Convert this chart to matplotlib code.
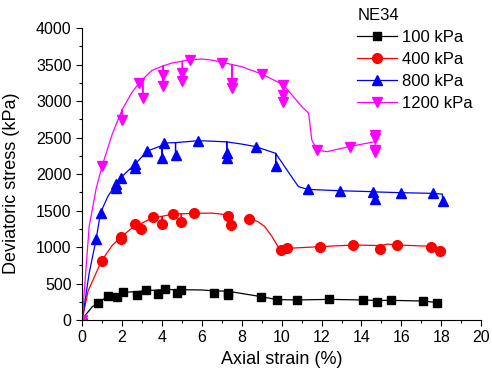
import numpy as np
import matplotlib

matplotlib.use('Agg')
import matplotlib.pyplot as plt
from matplotlib.ticker import MultipleLocator

plt.rcParams['font.family'] = ['Liberation Sans', 'DejaVu Sans']

# 100 kPa
x100 = [0, 0.79, 1.32, 1.76, 2.04, 2.76, 3.21, 3.8, 4.13, 4.75, 4.97, 6.6, 7.3, 7.3,
        8.98, 9.75, 10.79, 12.39, 14.07, 14.8, 15.47, 17.1, 17.78]
y100 = [0, 237, 329, 311, 379, 342, 411, 356, 420, 365, 411, 374, 365, 343,
        311, 270, 274, 283, 274, 247, 274, 256, 229]
cx100 = [0, 0.2, 0.5, 0.79, 1.32, 1.76, 1.76, 1.76, 2.04, 2.76, 2.76, 2.76, 3.21, 3.8, 3.8, 3.8,
         4.13, 4.75, 4.75, 4.75, 4.97, 6.0, 6.6, 7.3, 7.3, 7.3, 8.98, 9.75, 10.79, 12.39,
         14.07, 14.8, 14.8, 14.8, 15.47, 17.1, 17.78]
cy100 = [0, 80, 180, 237, 329, 340, 311, 340, 379, 390, 342, 390, 405, 410, 356, 410,
         420, 415, 365, 415, 415, 412, 400, 395, 343, 395, 320, 280, 275, 283,
         275, 268, 247, 268, 270, 260, 240]

# 400 kPa
x400 = [0, 0.97, 1.93, 1.93, 2.63, 2.93, 3.55, 4.0, 4.55, 4.97, 5.63, 7.33, 7.47, 8.38,
        9.95, 10.27, 11.93, 13.6, 14.95, 15.8, 17.48, 17.93]
y400 = [0, 812, 1133, 1105, 1315, 1242, 1415, 1315, 1452, 1347, 1461, 1429, 1297, 1384,
        959, 982, 1005, 1028, 968, 1028, 1005, 945]
cx400 = [0, 0.3, 0.97, 1.5, 1.93, 2.63, 2.93, 2.93, 2.93, 3.55, 4.0, 4.0, 4.0, 4.55, 4.97,
         4.97, 4.97, 5.63, 6.5, 7.33, 7.47, 7.47, np.nan, 8.38, 8.8, 9.15, 9.5, 9.85, 9.95,
         10.27, 11.93, 13.6, 14.95, 14.95, 14.95, 15.3, 15.8, 17.48, 17.93, 17.93]
cy400 = [0, 400, 812, 1020, 1133, 1290, 1320, 1242, 1320, 1400, 1420, 1315, 1420, 1452, 1455,
         1347, 1455, 1461, 1465, 1440, 1430, 1297, np.nan, 1384, 1350, 1280, 1150, 990, 960,
         982, 1005, 1028, 1020, 968, 1020, 1040, 1028, 1010, 990, 945]

# 800 kPa
x800 = [0, 0.7, 0.92, 1.72, 1.72, 1.97, 2.67, 2.67, 3.27, 4.0, 4.1, 4.68, 5.83, 7.25, 7.25,
        8.7, 9.7, 11.3, 12.9, 14.6, 14.7, 16.0, 17.6, 18.07]
y800 = [0, 1105, 1470, 1808, 1860, 1945, 2082, 2140, 2315, 2219, 2425, 2260, 2456, 2290, 2220,
        2375, 2110, 1790, 1771, 1758, 1658, 1744, 1735, 1634]
cx800 = [0, 0.35, 0.7, 0.92, 1.3, 1.72, 1.72, 1.72, 1.97, 2.67, 2.67, 2.67, 3.27, 4.0, 4.0,
         4.0, 4.1, 4.68, 4.68, 4.68, 5.83, 6.5, 7.25, 7.25, 7.25, 8.0, 8.7, 9.3, 9.7, 9.7,
         9.7, 10.26, 10.84, 11.3, 12.9, 14.6, 14.7, 14.7, 14.7, 16.0, 17.6, 18.05, 18.07, 18.1]
cy800 = [0, 640, 1105, 1470, 1700, 1870, 1808, 1870, 1960, 2140, 2082, 2140, 2315, 2390, 2219,
         2390, 2425, 2430, 2260, 2430, 2456, 2450, 2440, 2220, 2440, 2410, 2375, 2320, 2283, 2110,
         2283, 2057, 1828, 1790, 1771, 1758, 1755, 1658, 1755, 1744, 1735, 1725, 1634, 1560]

# 1200 kPa
x1200 = [0, 1.0, 2.0, 2.85, 3.04, 4.05, 4.05, 5.02, 5.02, 5.39, 7.01, 7.51, 7.51, 9.0,
         10.09, 10.09, 10.09, 11.76, 13.4, 14.69, 14.69, 14.69, 14.69]
y1200 = [0, 2111, 2742, 3245, 3040, 3359, 3199, 3382, 3277, 3565, 3519, 3245, 3177, 3369,
         3222, 3085, 2993, 2331, 2376, 2536, 2490, 2331, 2300]
cx1200 = [0, 0.35, 0.7, 1.0, 1.5, 2.0, 2.0, 2.0, 2.5, 2.85, 3.04, 3.04, 3.04, 3.5, 4.05, 4.05,
          4.05, 4.5, 5.02, 5.02, 5.02, 5.39, 6.0, 6.5, 7.01, 7.51, 7.51, 7.51, 8.0, 9.0, 10.09,
          10.09, 10.09, 11.0, 11.35, 11.51, 11.76, 12.27, 13.4, 14.69, 14.69, 14.69]
cy1200 = [0, 1280, 1800, 2111, 2540, 2880, 2742, 2880, 3120, 3245, 3300, 3040, 3300, 3420, 3480,
          3199, 3480, 3520, 3545, 3277, 3545, 3565, 3575, 3560, 3530, 3500, 3177, 3500, 3470, 3369,
          3222, 2993, 3222, 2925, 2834, 2468, 2331, 2306, 2376, 2444, 2536, 2300]

labels = ['100 kPa', '400 kPa', '800 kPa', '1200 kPa']
colors = ['black', '#ff0000', '#0000ff', '#ff00ff']
markers = ['s', 'o', '^', 'v']
sizes = [6, 7, 7, 7]

fig = plt.figure(figsize=(4.92, 3.81), dpi=100)
ax = fig.add_axes([0.167, 0.16, 0.811, 0.7665])

series = [(x100, y100, cx100, cy100), (x400, y400, cx400, cy400),
          (x800, y800, cx800, cy800), (x1200, y1200, cx1200, cy1200)]
for (mx, my, cx, cy), lab, c, m, s in zip(series, labels, colors, markers, sizes):
    ax.plot(cx, cy, '-', color=c, lw=0.9)
    ax.plot(mx, my, linestyle='none', marker=m, color=c, ms=s)
    # proxy for legend
    ax.plot([], [], '-', color=c, lw=0.9, marker=m, ms=s, label=lab)

ax.set_xlim(0, 20)
ax.set_ylim(0, 4000)
ax.xaxis.set_major_locator(MultipleLocator(2))
ax.xaxis.set_minor_locator(MultipleLocator(1))
ax.yaxis.set_major_locator(MultipleLocator(500))
ax.yaxis.set_minor_locator(MultipleLocator(250))
ax.tick_params(which='major', direction='out', length=4, width=0.8, labelsize=11.5)
ax.tick_params(which='minor', direction='out', length=2.5, width=0.8)
for side in ['top', 'right']:
    ax.spines[side].set_visible(False)
ax.set_xlabel('Axial strain (%)', fontsize=13, labelpad=4)
ax.set_ylabel('Deviatoric stress (kPa)', fontsize=13)
ax.yaxis.set_label_coords(-0.157, 0.47)

leg = ax.legend(title='NE34', loc='upper left', bbox_to_anchor=(0.66, 1.11), frameon=False,
                fontsize=12, title_fontsize=12, handlelength=2.4, handletextpad=0.3,
                labelspacing=0.42, borderpad=0.2, alignment='left')

fig.savefig('out.png', dpi=100)
